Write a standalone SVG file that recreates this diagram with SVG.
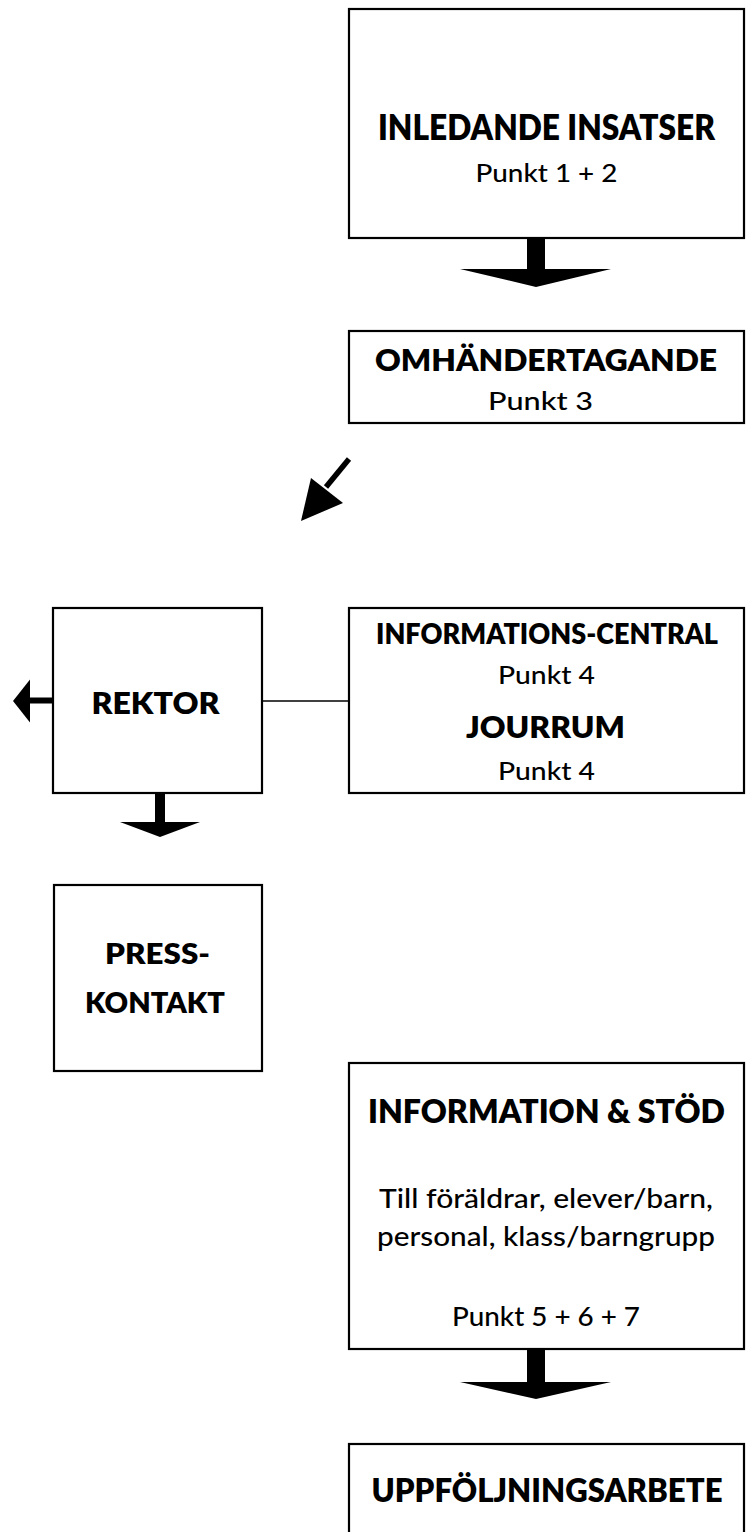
<svg xmlns="http://www.w3.org/2000/svg" width="751" height="1532" viewBox="0 0 751 1532">
  <style>
    .box { fill: #ffffff; stroke: #000000; stroke-width: 2.2; }
    .t { font-family: Lato, "Open Sans", "Liberation Sans", sans-serif; fill: #000000; text-anchor: middle; font-weight: 500; }
    .b { font-weight: 800; }
    .r { font-size: 25.5px; }
    .arrow { fill: #000000; stroke: none; }
    .line { stroke: #000000; stroke-width: 1.6; fill: none; }
  </style>
  <rect x="0" y="0" width="751" height="1532" fill="#ffffff"/>

  <g id="connectors">
    <polygon class="arrow" points="527,239 545,239 545,269 611,269 536,287 460,269 527,269"/>
    <line x1="349" y1="459" x2="326" y2="487" stroke="#000" stroke-width="5.5"/>
    <polygon class="arrow" points="311,478 343,503 301,521"/>
    <line class="line" x1="262" y1="701" x2="349" y2="701"/>
    <rect class="arrow" x="29" y="697.5" width="24" height="6"/>
    <polygon class="arrow" points="30,679.5 30,722.5 13,701"/>
    <polygon class="arrow" points="155,794 165,794 165,822 200,822 160,837 120,822 155,822"/>
    <polygon class="arrow" points="527,1350 545,1350 545,1382 611,1382 536,1399 460,1382 527,1382"/>
  </g>

  <g id="inledande">
    <rect class="box" x="349" y="9" width="395" height="229"/>
    <text class="t b" x="546.5" y="140" font-size="35" textLength="337" lengthAdjust="spacingAndGlyphs">INLEDANDE INSATSER</text>
    <text class="t r" x="546.5" y="182" textLength="142" lengthAdjust="spacingAndGlyphs">Punkt 1 + 2</text>
  </g>

  <g id="omhandertagande">
    <rect class="box" x="349" y="331" width="395" height="92"/>
    <text class="t b" x="546" y="371" font-size="29.5" textLength="342" lengthAdjust="spacingAndGlyphs">OMHÄNDERTAGANDE</text>
    <text class="t r" x="540.5" y="410" textLength="105" lengthAdjust="spacingAndGlyphs">Punkt 3</text>
  </g>

  <g id="rektor">
    <rect class="box" x="53" y="608" width="209" height="185"/>
    <text class="t b" x="155.5" y="714" font-size="31" textLength="128" lengthAdjust="spacingAndGlyphs">REKTOR</text>
  </g>

  <g id="informationscentral">
    <rect class="box" x="349" y="608" width="395" height="185"/>
    <text class="t b" x="547" y="644" font-size="27.5" textLength="342" lengthAdjust="spacingAndGlyphs">INFORMATIONS-CENTRAL</text>
    <text class="t r" x="546.5" y="684" textLength="97" lengthAdjust="spacingAndGlyphs">Punkt 4</text>
    <text class="t b" x="545.5" y="738" font-size="30.5" textLength="159" lengthAdjust="spacingAndGlyphs">JOURRUM</text>
    <text class="t r" x="546.5" y="780" textLength="97" lengthAdjust="spacingAndGlyphs">Punkt 4</text>
  </g>

  <g id="presskontakt">
    <rect class="box" x="54" y="885" width="208" height="186"/>
    <text class="t b" x="157.5" y="964" font-size="29" textLength="105" lengthAdjust="spacingAndGlyphs">PRESS-</text>
    <text class="t b" x="155" y="1013" font-size="29" textLength="140" lengthAdjust="spacingAndGlyphs">KONTAKT</text>
  </g>

  <g id="information-stod">
    <rect class="box" x="349" y="1063" width="395" height="286"/>
    <text class="t b" x="546.5" y="1123" font-size="31.5" textLength="357" lengthAdjust="spacingAndGlyphs">INFORMATION &amp; STÖD</text>
    <text class="t" x="546" y="1208" font-size="27.5" textLength="334" lengthAdjust="spacingAndGlyphs">Till föräldrar, elever/barn,</text>
    <text class="t" x="546" y="1246" font-size="27.5" textLength="338" lengthAdjust="spacingAndGlyphs">personal, klass/barngrupp</text>
    <text class="t" x="546" y="1326" font-size="27" textLength="188" lengthAdjust="spacingAndGlyphs">Punkt 5 + 6 + 7</text>
  </g>

  <g id="uppfoljningsarbete">
    <rect class="box" x="349" y="1444" width="395" height="100"/>
    <text class="t b" x="547" y="1502" font-size="31.5" textLength="351" lengthAdjust="spacingAndGlyphs">UPPFÖLJNINGSARBETE</text>
  </g>
</svg>
